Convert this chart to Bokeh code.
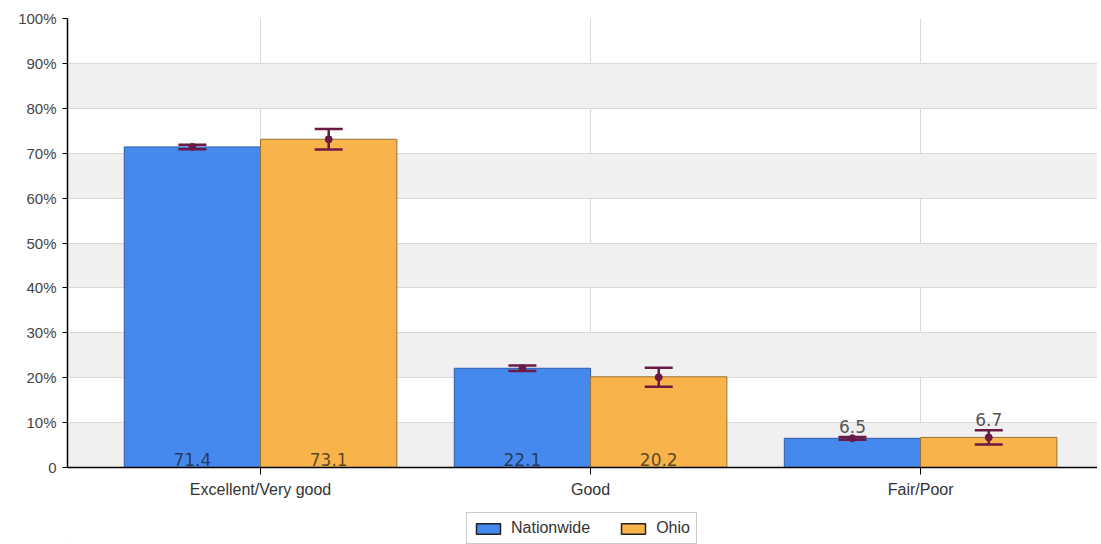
from bokeh.plotting import figure
from bokeh.layouts import column
from bokeh.models import (ColumnDataSource, FixedTicker, Range1d, Whisker, TeeHead,
                          Legend, LegendItem)
from bokeh.core.properties import value
from bokeh.embed import file_html
from bokeh.resources import INLINE

categories = ["Excellent/Very good", "Good", "Fair/Poor"]
series = ["Nationwide", "Ohio"]
nationwide = [71.4, 22.1, 6.5]
ohio = [73.1, 20.2, 6.7]
nationwide_low = [70.9, 21.5, 6.2]
nationwide_high = [71.9, 22.7, 6.8]
ohio_low = [70.8, 18.0, 5.1]
ohio_high = [75.4, 22.2, 8.3]
y_ticks = [0, 10, 20, 30, 40, 50, 60, 70, 80, 90, 100]
y_tick_labels = ["0", "10%", "20%", "30%", "40%", "50%", "60%", "70%", "80%", "90%", "100%"]

colors = ["#4689ee", "#f9b34b"]
edge_colors = ["#2d5da8", "#9a7332"]
err_color = "#6b1a45"
bar_w = 0.413

p = figure(width=1097, height=510, output_backend="svg", toolbar_location=None,
           x_range=Range1d(-0.585, 2.536), y_range=Range1d(0, 100),
           min_border_left=67, min_border_top=18, min_border_right=0, min_border_bottom=43)
p.outline_line_color = None
p.background_fill_color = "white"

for si, (name, vals, lo, hi) in enumerate([
        ("Nationwide", nationwide, nationwide_low, nationwide_high),
        ("Ohio", ohio, ohio_low, ohio_high)]):
    xs = [i + (bar_w / 2 if si == 1 else -bar_w / 2) for i in range(len(categories))]
    inside = [v >= 10 for v in vals]
    src = ColumnDataSource(dict(x=xs, top=vals, lo=lo, hi=hi))
    p.vbar(x="x", top="top", width=bar_w, source=src, fill_color=colors[si],
           line_color=edge_colors[si], line_width=1)
    w = Whisker(base="x", lower="lo", upper="hi", source=src, line_color=err_color,
                line_width=2.5, level="overlay",
                upper_head=TeeHead(size=28, line_color=err_color, line_width=2.5),
                lower_head=TeeHead(size=28, line_color=err_color, line_width=2.5))
    p.add_layout(w)
    p.scatter(x="x", y="mid", source=ColumnDataSource(dict(x=xs, mid=[(a + b) / 2 for a, b in zip(lo, hi)])),
              size=7, fill_color=err_color, line_color=err_color, level="overlay")
    in_src = ColumnDataSource(dict(x=[x for x, ins in zip(xs, inside) if ins],
                                   y=[0 for ins in inside if ins],
                                   lab=[f"{v:.1f}" for v, ins in zip(vals, inside) if ins]))
    out_src = ColumnDataSource(dict(x=[x for x, ins in zip(xs, inside) if not ins],
                                    y=[h for h, ins in zip(hi, inside) if not ins],
                                    lab=[f"{v:.1f}" for v, ins in zip(vals, inside) if not ins]))
    p.text(x="x", y="y", text="lab", source=in_src, text_align="center", text_baseline="bottom",
           y_offset=-2, text_font=value("DejaVu Sans"), text_font_size="17px",
           text_color="#1a1a1a", text_alpha=0.72)
    p.text(x="x", y="y", text="lab", source=out_src, text_align="center", text_baseline="bottom",
           y_offset=-4, text_font=value("DejaVu Sans"), text_font_size="17px",
           text_color="#555555")

# axes
p.yaxis.ticker = FixedTicker(ticks=y_ticks)
p.yaxis.major_label_overrides = {t: l for t, l in zip(y_ticks, y_tick_labels)}
p.yaxis.major_label_text_font = "Liberation Sans"
p.yaxis.major_label_text_font_size = "15px"
p.yaxis.major_label_text_color = "#444444"
p.yaxis.major_tick_in = 0
p.yaxis.major_tick_out = 5
p.yaxis.minor_tick_line_color = None
p.yaxis.axis_line_color = "black"
p.yaxis.axis_line_width = 1.5
p.yaxis.major_tick_line_color = "black"
p.yaxis.major_label_standoff = 6

p.xaxis.ticker = FixedTicker(ticks=list(range(len(categories))))
p.xaxis.major_label_overrides = {i: c for i, c in enumerate(categories)}
p.xaxis.major_label_text_font = "Liberation Sans"
p.xaxis.major_label_text_font_size = "16px"
p.xaxis.major_label_text_color = "#333333"
p.xaxis.major_tick_in = 0
p.xaxis.major_tick_out = 7
p.xaxis.minor_tick_line_color = None
p.xaxis.axis_line_color = "black"
p.xaxis.axis_line_width = 1.5
p.xaxis.major_label_standoff = 6
p.xaxis.axis_label_standoff = 0

# duplicate first tick so that the shaded bands start at 0-10
p.ygrid.ticker = FixedTicker(ticks=[y_ticks[0]] + y_ticks)
p.ygrid.grid_line_color = "#d9d9d9"
p.ygrid.band_fill_color = "#f0f0f0"
p.ygrid.band_fill_alpha = 1
p.xgrid.ticker = FixedTicker(ticks=list(range(len(categories))))
p.xgrid.grid_line_color = "#d9d9d9"

# legend strip below the chart (proxy bars sit outside the strip's visible range)
lf = figure(width=1097, height=34, output_backend="svg", toolbar_location=None,
            x_axis_type=None, y_axis_type=None, x_range=Range1d(0, 1), y_range=Range1d(0, 1),
            min_border_left=0, min_border_right=0, min_border_top=0, min_border_bottom=0)
lf.outline_line_color = None
lf.xgrid.visible = False
lf.ygrid.visible = False
leg_renderers = []
for si, name in enumerate(series):
    r = lf.vbar(x=[-5], top=[0], width=0.1, fill_color=colors[si],
                line_color="#222222", line_width=1.5)
    leg_renderers.append(r)
legend = Legend(items=[LegendItem(label=s, renderers=[r]) for s, r in zip(series, leg_renderers)],
                orientation="horizontal", location=(399, 0),
                label_text_font="Liberation Sans", label_text_font_size="16px",
                label_text_color="#333333", border_line_color="#999999",
                background_fill_alpha=1,
                glyph_width=30, glyph_height=13, spacing=28, padding=6, margin=0,
                label_standoff=8)
lf.add_layout(legend, "center")

layout = column(p, lf, spacing=0)
open("out.html", "w").write(file_html(layout, INLINE))
